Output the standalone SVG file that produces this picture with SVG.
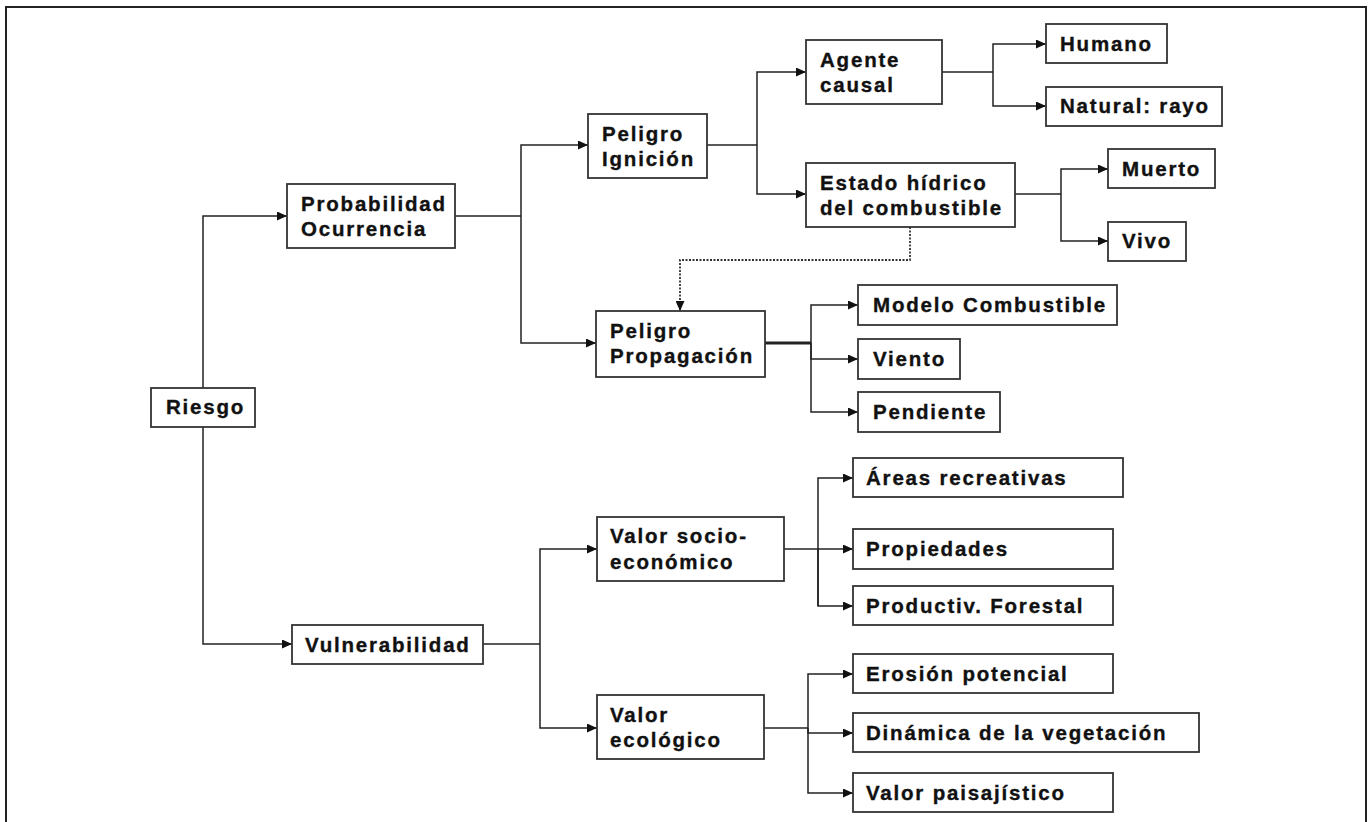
<svg xmlns="http://www.w3.org/2000/svg" width="1370" height="822" viewBox="0 0 1370 822">
<style>
.box{fill:#fff;stroke:#333;stroke-width:1.8}
.t{font-family:"Liberation Sans",Arial,sans-serif;font-weight:bold;font-size:20.5px;letter-spacing:1.8px;fill:#111;stroke:#111;stroke-width:0.35}
.c{fill:none;stroke:#222;stroke-width:1.5}
.thick{stroke-width:3}
.dot{fill:none;stroke:#333;stroke-width:1.8;stroke-dasharray:2 1.5}
</style>
<defs>
<marker id="ah" markerUnits="userSpaceOnUse" markerWidth="10" markerHeight="9" refX="10" refY="4.5" orient="auto">
<path d="M0,0 L10,4.5 L0,9 z" fill="#111"/>
</marker>
</defs>
<rect width="1370" height="822" fill="#fff"/>
<g id="frame" fill="none" stroke="#222" stroke-width="2">
<path d="M6,830 L6,7 L1366,7 L1366,830"/>
</g>
<g id="connectors">
<path class="c" d="M203,388 V216 H287" marker-end="url(#ah)"/>
<path class="c" d="M203,427 V644 H292" marker-end="url(#ah)"/>
<path class="c" d="M455,216 H521"/>
<path class="c" d="M521,216 V145 H588" marker-end="url(#ah)"/>
<path class="c" d="M521,216 V343 H596" marker-end="url(#ah)"/>
<path class="c" d="M707,145 H757"/>
<path class="c" d="M757,145 V72 H806" marker-end="url(#ah)"/>
<path class="c" d="M757,145 V194 H806" marker-end="url(#ah)"/>
<path class="c" d="M942,72 H993"/>
<path class="c" d="M993,72 V44 H1046" marker-end="url(#ah)"/>
<path class="c" d="M993,72 V106 H1046" marker-end="url(#ah)"/>
<path class="c" d="M1015,194 H1061"/>
<path class="c" d="M1061,194 V169 H1108" marker-end="url(#ah)"/>
<path class="c" d="M1061,194 V241 H1108" marker-end="url(#ah)"/>
<path class="dot" d="M910,227 V260 H680 V303"/>
<path class="c" d="M680,301 V311" marker-end="url(#ah)"/>
<path class="c thick" d="M765,343 H811"/>
<path class="c" d="M811,343 V305 H858" marker-end="url(#ah)"/>
<path class="c" d="M811,343 V359 H858" marker-end="url(#ah)"/>
<path class="c" d="M811,343 V412 H858" marker-end="url(#ah)"/>
<path class="c" d="M483,644 H540"/>
<path class="c" d="M540,644 V549 H597" marker-end="url(#ah)"/>
<path class="c" d="M540,644 V728 H597" marker-end="url(#ah)"/>
<path class="c" d="M784,549 H853" marker-end="url(#ah)"/>
<path class="c" d="M818,606 V478 H853" marker-end="url(#ah)"/>
<path class="c" d="M818,549 V606 H853" marker-end="url(#ah)"/>
<path class="c" d="M764,728 H808"/>
<path class="c" d="M808,728 V674 H853" marker-end="url(#ah)"/>
<path class="c" d="M808,728 V733 H853" marker-end="url(#ah)"/>
<path class="c" d="M808,728 V793 H853" marker-end="url(#ah)"/>
</g>
<g id="riesgo"><rect class="box" x="151" y="388" width="104" height="39"/><text class="t" x="166" y="414">Riesgo</text></g>
<g id="probabilidad"><rect class="box" x="287" y="184" width="168" height="64"/><text class="t" x="301" y="211">Probabilidad</text><text class="t" x="301" y="236">Ocurrencia</text></g>
<g id="peligro-ignicion"><rect class="box" x="588" y="114" width="119" height="64"/><text class="t" x="602" y="141">Peligro</text><text class="t" x="602" y="166">Ignición</text></g>
<g id="agente-causal"><rect class="box" x="806" y="40" width="136" height="64"/><text class="t" x="820" y="67">Agente</text><text class="t" x="820" y="92">causal</text></g>
<g id="humano"><rect class="box" x="1046" y="24" width="121" height="39"/><text class="t" x="1060" y="51">Humano</text></g>
<g id="natural-rayo"><rect class="box" x="1046" y="87" width="176" height="39"/><text class="t" x="1060" y="113">Natural: rayo</text></g>
<g id="estado-hidrico"><rect class="box" x="806" y="163" width="209" height="64"/><text class="t" x="820" y="190">Estado hídrico</text><text class="t" x="820" y="215">del combustible</text></g>
<g id="muerto"><rect class="box" x="1108" y="149" width="107" height="39"/><text class="t" x="1122" y="176">Muerto</text></g>
<g id="vivo"><rect class="box" x="1108" y="222" width="78" height="39"/><text class="t" x="1122" y="248">Vivo</text></g>
<g id="peligro-propagacion"><rect class="box" x="596" y="311" width="169" height="66"/><text class="t" x="610" y="338">Peligro</text><text class="t" x="610" y="363">Propagación</text></g>
<g id="modelo-combustible"><rect class="box" x="858" y="285" width="259" height="40"/><text class="t" x="873" y="312">Modelo Combustible</text></g>
<g id="viento"><rect class="box" x="858" y="339" width="102" height="40"/><text class="t" x="873" y="366">Viento</text></g>
<g id="pendiente"><rect class="box" x="858" y="392" width="142" height="40"/><text class="t" x="873" y="419">Pendiente</text></g>
<g id="vulnerabilidad"><rect class="box" x="292" y="625" width="191" height="39"/><text class="t" x="305" y="652">Vulnerabilidad</text></g>
<g id="valor-socio"><rect class="box" x="597" y="517" width="187" height="64"/><text class="t" x="610" y="543">Valor socio-</text><text class="t" x="610" y="569">económico</text></g>
<g id="valor-ecologico"><rect class="box" x="597" y="695" width="167" height="64"/><text class="t" x="610" y="722">Valor</text><text class="t" x="610" y="747">ecológico</text></g>
<g id="areas-recreativas"><rect class="box" x="853" y="458" width="270" height="39"/><text class="t" x="866" y="485">Áreas recreativas</text></g>
<g id="propiedades"><rect class="box" x="853" y="529" width="260" height="40"/><text class="t" x="866" y="556">Propiedades</text></g>
<g id="productiv-forestal"><rect class="box" x="853" y="586" width="260" height="39"/><text class="t" x="866" y="613">Productiv. Forestal</text></g>
<g id="erosion-potencial"><rect class="box" x="853" y="654" width="260" height="39"/><text class="t" x="866" y="681">Erosión potencial</text></g>
<g id="dinamica-vegetacion"><rect class="box" x="853" y="713" width="346" height="39"/><text class="t" x="866" y="740">Dinámica de la vegetación</text></g>
<g id="valor-paisajistico"><rect class="box" x="853" y="773" width="260" height="39"/><text class="t" x="866" y="800">Valor paisajístico</text></g>
</svg>
